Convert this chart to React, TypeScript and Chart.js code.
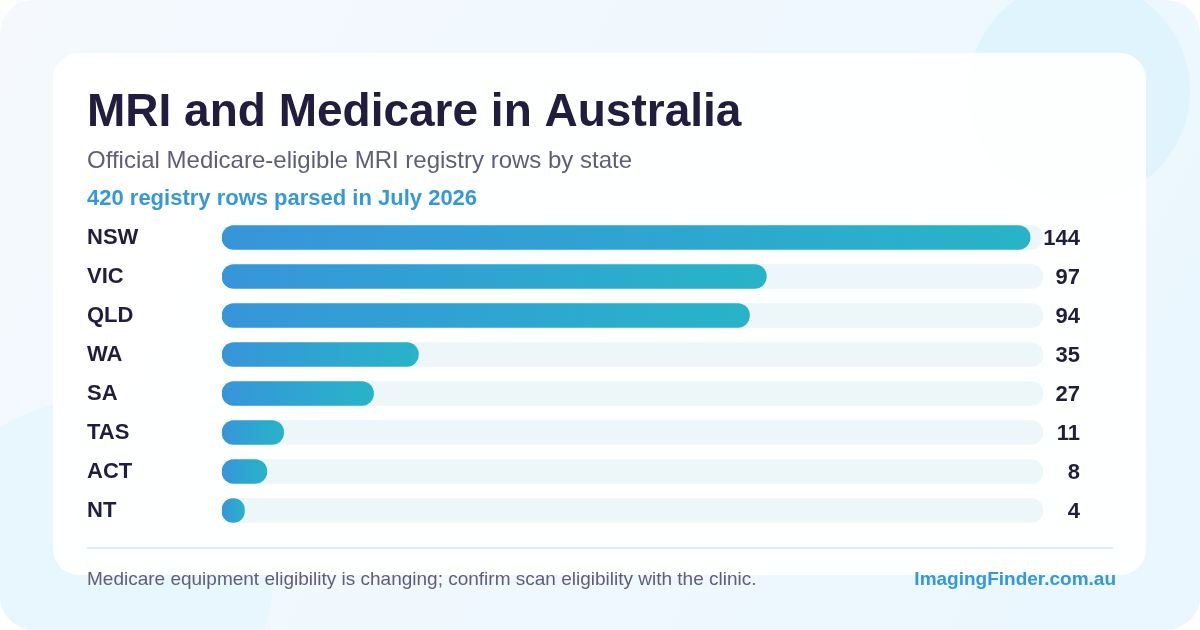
import { useEffect, useRef } from 'react';
import { Chart, registerables } from 'chart.js';

Chart.register(...registerables);

const TITLE = 'MRI and Medicare in Australia';
const SUBTITLE = 'Official Medicare-eligible MRI registry rows by state';
const HIGHLIGHT = '420 registry rows parsed in July 2026';
const FOOTNOTE = 'Medicare equipment eligibility is changing; confirm scan eligibility with the clinic.';
const BRAND = 'ImagingFinder.com.au';

const STATES = ['NSW', 'VIC', 'QLD', 'WA', 'SA', 'TAS', 'ACT', 'NT'];
const ROWS = [144, 97, 94, 35, 27, 11, 8, 4];
const SCALE_MAX = 146.3;
const TRACK = STATES.map(() => SCALE_MAX);

const FONT = "'Liberation Sans', Arial, Helvetica, sans-serif";
const DARK = '#221c3e';
const GREY = '#625c7c';
const BLUE = '#3498db';

function roundRect(ctx: CanvasRenderingContext2D, x: number, y: number, w: number, h: number, r: number) {
  ctx.beginPath();
  ctx.moveTo(x + r, y);
  ctx.arcTo(x + w, y, x + w, y + h, r);
  ctx.arcTo(x + w, y + h, x, y + h, r);
  ctx.arcTo(x, y + h, x, y, r);
  ctx.arcTo(x, y, x + w, y, r);
  ctx.closePath();
}

const backdrop = {
  id: 'backdrop',
  beforeDraw(chart: any) {
    const ctx: CanvasRenderingContext2D = chart.ctx;
    ctx.save();
    roundRect(ctx, 0, 0, 1200, 630, 34);
    const bg = ctx.createLinearGradient(0, 0, 1200, 630);
    bg.addColorStop(0, '#f5f9fe');
    bg.addColorStop(1, '#eaf7fe');
    ctx.fillStyle = bg;
    ctx.fill();
    ctx.clip();
    ctx.fillStyle = '#e0f4fd';
    ctx.beginPath();
    ctx.arc(1079, 91, 111, 0, Math.PI * 2);
    ctx.fill();
    ctx.fillStyle = '#e8f6fd';
    ctx.beginPath();
    ctx.arc(95, 578, 178, 0, Math.PI * 2);
    ctx.fill();
    roundRect(ctx, 53, 53, 1093, 522, 26);
    ctx.fillStyle = 'rgba(255,255,255,0.93)';
    ctx.fill();
    ctx.restore();
  },
  afterDraw(chart: any) {
    const ctx: CanvasRenderingContext2D = chart.ctx;
    ctx.save();
    ctx.textBaseline = 'alphabetic';
    ctx.textAlign = 'left';
    ctx.fillStyle = DARK;
    ctx.font = `bold 46px ${FONT}`;
    ctx.fillText(TITLE, 87, 126);
    ctx.fillStyle = GREY;
    ctx.font = `24px ${FONT}`;
    ctx.fillText(SUBTITLE, 87, 168);
    ctx.fillStyle = BLUE;
    ctx.font = `bold 22px ${FONT}`;
    ctx.fillText(HIGHLIGHT, 87, 205);
    ctx.strokeStyle = '#dceaf3';
    ctx.lineWidth = 2;
    ctx.beginPath();
    ctx.moveTo(87, 548);
    ctx.lineTo(1113, 548);
    ctx.stroke();
    ctx.fillStyle = GREY;
    ctx.font = `19px ${FONT}`;
    ctx.fillText(FOOTNOTE, 87, 585);
    ctx.fillStyle = BLUE;
    ctx.font = `bold 19px ${FONT}`;
    ctx.textAlign = 'right';
    ctx.fillText(BRAND, 1116, 585);
    ctx.restore();
  },
};

const valueLabels = {
  id: 'valueLabels',
  afterDatasetsDraw(chart: any) {
    const ctx: CanvasRenderingContext2D = chart.ctx;
    const meta = chart.getDatasetMeta(0);
    ctx.save();
    ctx.font = `bold 22px ${FONT}`;
    ctx.fillStyle = DARK;
    ctx.textAlign = 'right';
    ctx.textBaseline = 'middle';
    meta.data.forEach((bar: any, i: number) => {
      ctx.fillText(String(ROWS[i]), chart.chartArea.right + 37, bar.y + 1);
    });
    ctx.restore();
  },
};

export default function App() {
  const ref = useRef<HTMLCanvasElement>(null);
  useEffect(() => {
    document.body.style.margin = '0';
    const chart = new Chart(ref.current as HTMLCanvasElement, {
      type: 'bar',
      data: {
        labels: STATES,
        datasets: [
          {
            label: 'Registry rows',
            data: ROWS,
            grouped: false,
            barThickness: 24,
            borderRadius: 12,
            borderSkipped: false,
            backgroundColor: (c: any) => {
              const xs = c.chart.scales.x;
              if (!xs || c.type !== 'data') return BLUE;
              const x0 = xs.getPixelForValue(0);
              const x1 = xs.getPixelForValue(c.raw as number);
              if (!isFinite(x0) || !isFinite(x1) || x1 <= x0) return BLUE;
              const g = c.chart.ctx.createLinearGradient(x0, 0, x1, 0);
              g.addColorStop(0, '#3795da');
              g.addColorStop(1, '#27b4c8');
              return g;
            },
          } as any,
          {
            label: 'Track',
            data: TRACK,
            grouped: false,
            barThickness: 24,
            borderRadius: 12,
            borderSkipped: false,
            backgroundColor: '#edf6f9',
          } as any,
        ],
      },
      options: {
        indexAxis: 'y',
        responsive: false,
        animation: false,
        layout: { padding: { left: 87, top: 218, right: 157, bottom: 100 } },
        plugins: { legend: { display: false }, tooltip: { enabled: false } },
        scales: {
          x: { display: false, min: 0, max: SCALE_MAX },
          y: {
            grid: { display: false },
            border: { display: false },
            afterFit: (s: any) => {
              s.width = 135;
            },
            ticks: {
              crossAlign: 'far',
              color: DARK,
              font: { family: FONT, size: 22, weight: 'bold' },
            },
          },
        },
      },
      plugins: [backdrop, valueLabels],
    });
    return () => chart.destroy();
  }, []);
  return (
    <div style={{ width: 1200, height: 630 }}>
      <canvas ref={ref} width={1200} height={630} style={{ display: 'block', width: 1200, height: 630 }} />
    </div>
  );
}
